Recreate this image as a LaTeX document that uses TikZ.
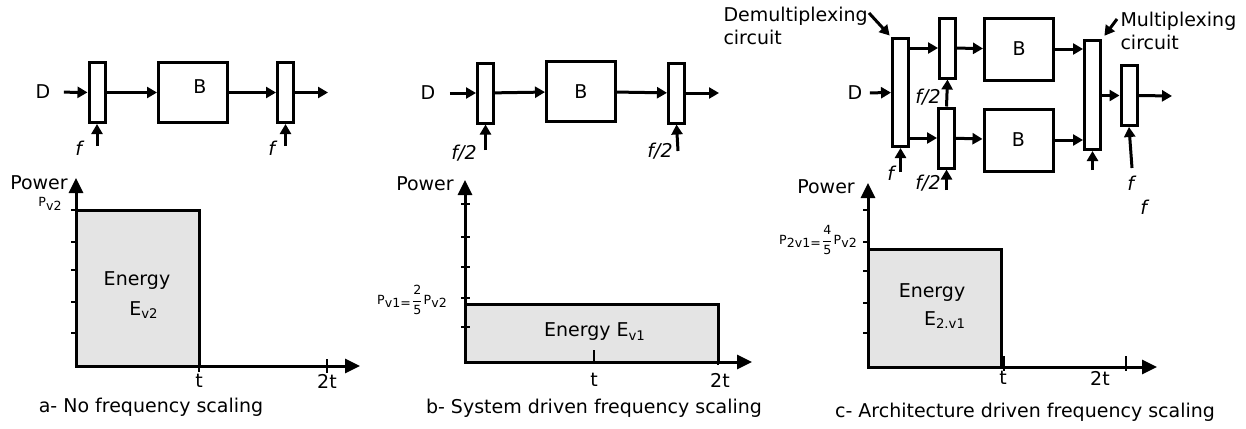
\documentclass[tikz,border=0pt]{standalone}
\usepackage{fontspec}
\usepackage{amsmath}
\setmainfont{DejaVu Sans}
\usetikzlibrary{arrows.meta}
\definecolor{energy}{RGB}{228,228,228}

\begin{document}
\begin{tikzpicture}[x=0.5pt,y=-0.5pt,line width=1.5pt,
  every node/.style={font=\fontsize{9.5}{11.5}\selectfont,inner sep=0pt,align=center},
  reg/.style={draw,minimum width=8pt,minimum height=30pt},
  blk/.style={draw,minimum width=34.5pt,minimum height=30pt},
  arr/.style={-{Triangle[length=5pt,width=5.5pt]}},
  axis/.style={-{Triangle[length=7.5pt,width=7pt]}},
  tick/.style={line width=1pt},
  tiny/.style={font=\fontsize{6.3}{7}\selectfont}]
\useasboundingbox (0,0) rectangle (1246,428);

% a- no frequency scaling
\node (Da) at (43,92) {D};
\node[reg] (ra1) at (97,92.5) {};
\node[blk] (Ba) at (193,92.5) {};
\node (Bal) at (200,87) {B};
\node[reg] (ra2) at (285.5,92.5) {};
\coordinate (oa1) at (328,92.5);
\coordinate (ca1) at (97,146);
\coordinate (ca2) at (285.5,146);
\draw[arr,shorten <=6pt] (Da) -- (ra1);
\draw[arr] (ra1) -- (Ba);
\draw[arr] (Ba) -- (ra2);
\draw[arr] (ra2.east) -- (oa1);
\draw[arr] (ca1) -- (ra1.south);
\draw[arr] (ca2) -- (ra2.south);
\node (fa1) at (80,148) {\textit{f}};
\node (fa2) at (273,148) {\textit{f}};

\coordinate (oa) at (76,366);
\coordinate (ya) at (76,178);
\coordinate (xa) at (360,366);
\coordinate (pa) at (199,210);
\draw[fill=energy] (oa) rectangle (pa);
\draw[axis] (oa) -- (ya);
\draw[axis] (oa) -- (xa);
\foreach \y in {210,242,270,302,333} \draw[tick] (71,\y) -- (76,\y);
\draw[tick] (199,366) -- (199,372);
\draw[tick] (327,359) -- (327,373);
\node (pwa) at (39,183) {Power};
\node[tiny] (pva) at (50,204) {P\raisebox{-.5ex}{v2}};
\node (ena) at (137,281) {Energy};
\node (eva) at (144,310) {E\textsubscript{v2}};
\node (ta) at (199,381) {t};
\node (tta) at (327,381) {2t};
\node (capa) at (151,407) {a- No frequency scaling};

% b- system driven
\node (Db) at (428,93) {D};
\node[reg] (rb1) at (485.5,93) {};
\node[blk] (Bb) at (581,91.5) {B};
\node[reg] (rb2) at (676.5,93) {};
\coordinate (ob1) at (719,93);
\coordinate (cb1) at (485.5,150);
\coordinate (cb2) at (678,151);
\draw[arr,shorten <=6.5pt] (Db) -- (rb1);
\draw[arr] (rb1) -- (Bb);
\draw[arr] (Bb) -- (rb2);
\draw[arr] (rb2.east) -- (ob1);
\draw[arr] (cb1) -- (rb1.south);
\draw[arr] (cb2) -- (rb2.south);
\node (fb1) at (464,153) {\textit{f/2}};
\node (fb2) at (660,151) {\textit{f/2}};

\coordinate (ob) at (465,362);
\coordinate (yb) at (465,180);
\coordinate (xb) at (752,362);
\coordinate (pb) at (718,304);
\draw[fill=energy] (ob) rectangle (pb);
\draw[axis] (ob) -- (yb);
\draw[axis] (ob) -- (xb);
\foreach \y in {204,237,267,298,327} \draw[tick] (461,\y) -- (470,\y);
\draw[tick] (594,350) -- (594,362);
\draw[tick] (718,350) -- (718,365);
\node (pwb) at (425,184) {Power};
\node[tiny] (pvb) at (412,300) {P\raisebox{-.5ex}{v1=}$\dfrac{\text{2}}{\text{5}}$P\raisebox{-.5ex}{v2}};
\node (enb) at (595,332) {Energy E\textsubscript{v1}};
\node (tb) at (594,380) {t};
\node (ttb) at (720,380) {2t};
\node (capb) at (594,408) {b- System driven frequency scaling};

% c- architecture driven
\node (Dc) at (855,93) {D};
\node[reg,minimum height=54pt] (rdm) at (900.5,92.5) {};
\node[reg] (ru) at (947.5,48) {};
\node[reg] (rl) at (946.5,138) {};
\node[blk,minimum height=31pt] (Bc1) at (1019,49) {B};
\node[blk,minimum height=31pt] (Bc2) at (1018.5,140) {B};
\node[reg,minimum height=54.5pt] (rmx) at (1092.5,95) {};
\node[reg] (rf) at (1129,95.5) {};
\coordinate (oc1) at (1172,96);
\draw[arr,shorten <=3pt] (Dc) -- (rdm);
\draw[arr] (rdm.east |- ru.west) -- (ru.west);
\draw[arr] (rdm.east |- rl.west) -- (rl.west);
\draw[arr] (ru) -- (Bc1);
\draw[arr] (rl) -- (Bc2);
\draw[arr] (Bc1.east) -- (rmx.west |- Bc1.east);
\draw[arr] (Bc2.east) -- (rmx.west |- Bc2.east);
\draw[arr] (rmx.east |- rf.west) -- (rf.west);
\draw[arr] (rf.east) -- (oc1);
\coordinate (cc1) at (900.5,172);
\coordinate (cc3) at (946.5,190);
\coordinate (cc4) at (1092.5,170);
\coordinate (cc5) at (1132,168);
\draw[arr] (cc1) -- (rdm.south);
\draw[arr] (rl.north) -- (ru.south);
\draw[arr] (cc3) -- (rl.south);
\draw[arr] (cc4) -- (rmx.south);
\draw[arr] (cc5) -- (rf.south);
\node (fc1) at (892,173) {\textit{f}};
\node (fc2) at (928,97) {\textit{f/2}};
\node (fc3) at (928,183) {\textit{f/2}};
\node (fc4) at (1132,183) {\textit{f}};
\node (fc5) at (1145,207) {\textit{f}};
\node[align=left,anchor=west] (dmx) at (722,26) {Demultiplexing\\circuit};
\node[align=left,anchor=west] (mx) at (1119,31) {Multiplexing\\circuit};
\coordinate (dmxa) at (869,13);
\coordinate (mxa) at (1117,19);
\draw[arr,shorten >=1pt] (dmxa) -- (rdm.north west);
\draw[arr,shorten >=2pt] (mxa) -- (rmx.north east);

\coordinate (oc) at (868,367);
\coordinate (yc) at (868,183);
\coordinate (xc) at (1157,367);
\coordinate (pc) at (1001,249);
\draw[fill=energy] (oc) rectangle (pc);
\draw[axis] (oc) -- (yc);
\draw[axis] (oc) -- (xc);
\foreach \y in {210,242,271,303,333} \draw[tick] (863,\y) -- (868,\y);
\draw[tick] (1004,356) -- (1004,371);
\draw[tick] (1126,356) -- (1126,371);
\node (pwc) at (826,187) {Power};
\node[tiny] (pvc) at (818,240) {P\raisebox{-.5ex}{2v1=}$\dfrac{\text{4}}{\text{5}}$P\raisebox{-.5ex}{v2}};
\node (enc) at (932,293) {Energy};
\node (evc) at (945,320) {E\textsubscript{2.v1}};
\node (tc) at (1003,378) {t};
\node (ttc) at (1100,378) {2t};
\node (capc) at (1025,412) {c- Architecture driven frequency scaling};
\end{tikzpicture}
\end{document}
